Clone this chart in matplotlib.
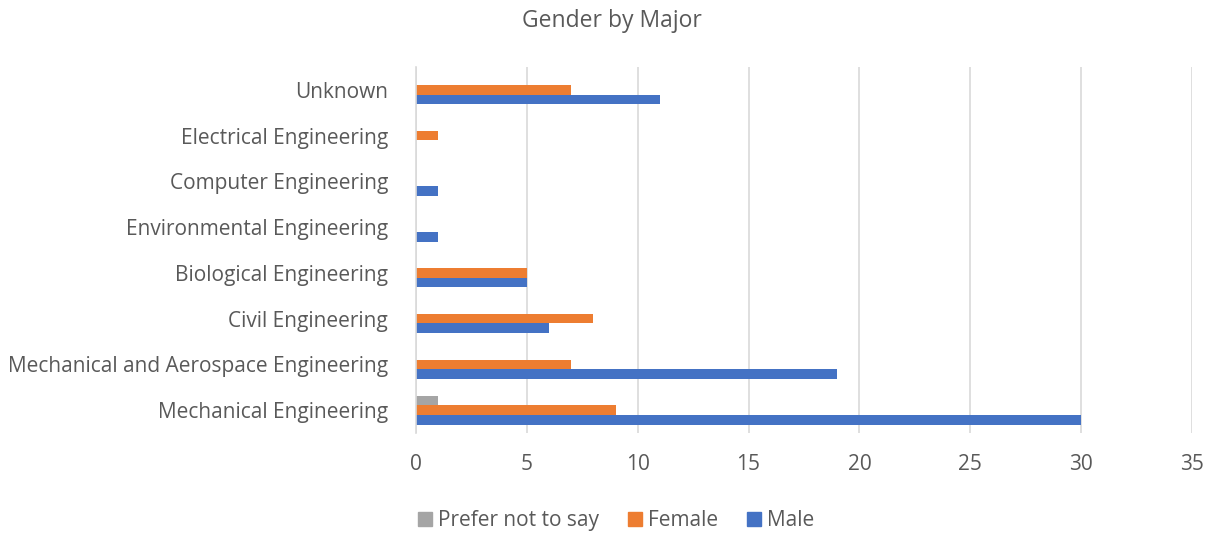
import matplotlib.pyplot as plt
import numpy as np
from matplotlib.patches import Patch

majors = ["Mechanical Engineering", "Mechanical and Aerospace Engineering", "Civil Engineering",
          "Biological Engineering", "Environmental Engineering", "Computer Engineering",
          "Electrical Engineering", "Unknown"]
male = [30, 19, 6, 5, 1, 1, 0, 11]
female = [9, 7, 8, 5, 0, 0, 1, 7]
prefer_not = [1, 0, 0, 0, 0, 0, 0, 0]
xticks = [0, 5, 10, 15, 20, 25, 30, 35]

text_col = "#595959"
plt.rcParams["font.family"] = ["Open Sans", "DejaVu Sans"]

fig = plt.figure(figsize=(12.11, 5.33), dpi=100)
ax = fig.add_axes([0.3435, 0.1876, 0.6408, 0.6867])

y = np.arange(len(majors))
h = 0.21
ax.barh(y - h, male, height=h, color="#4472C4", zorder=3)
ax.barh(y, female, height=h, color="#ED7D31", zorder=3)
ax.barh(y + h, prefer_not, height=h, color="#A5A5A5", zorder=3)

ax.set_ylim(-0.5, len(majors) - 0.5)
ax.set_xlim(0, 35)
ax.set_xticks(xticks)
ax.set_yticks(y)
ax.set_yticklabels(majors)
ax.tick_params(axis="both", length=0, labelsize=15, colors=text_col)
ax.tick_params(axis="y", pad=20)
ax.tick_params(axis="x", pad=15)
ax.grid(axis="x", color="#D9D9D9", linewidth=1.2, zorder=0)
for s in ["top", "right", "bottom"]:
    ax.spines[s].set_visible(False)
ax.spines["left"].set_color("#D9D9D9")
ax.spines["left"].set_linewidth(1.2)
ax.spines["left"].set_zorder(4)

fig.suptitle("Gender by Major", x=0.505, y=0.983, fontsize=16.5, color=text_col)

handles = [Patch(color="#A5A5A5"), Patch(color="#ED7D31"), Patch(color="#4472C4")]
fig.legend(handles, ["Prefer not to say", "Female", "Male"], loc="lower center",
           bbox_to_anchor=(0.509, -0.032), ncol=3, frameon=False, fontsize=15,
           labelcolor=text_col, handlelength=0.65, handleheight=0.65, handletextpad=0.3,
           columnspacing=1.4)

plt.savefig("out.png", dpi=100)
